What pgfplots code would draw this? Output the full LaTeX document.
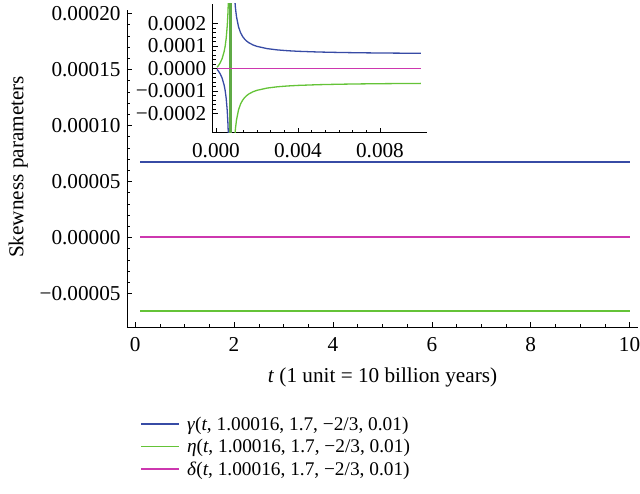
\documentclass[border=0pt]{standalone}
\usepackage{fontspec}
\setmainfont{Liberation Serif}
\usepackage{pgfplots}
\pgfplotsset{compat=1.18}
\definecolor{cblue}{RGB}{55,75,165}
\definecolor{cgreen}{RGB}{100,195,55}
\definecolor{cgreenv}{RGB}{95,170,70}
\definecolor{cpink}{RGB}{205,55,175}
\newcommand{\fs}{\fontsize{21.3}{25}\selectfont}
\newcommand{\fl}{\fontsize{19.4}{23}\selectfont}
\pgfplotsset{
  mystyle/.style={
    scale only axis,
    axis x line*=bottom, axis y line*=left,
    axis line style={-, line width=0.6bp},
    tick align=inside,
    major tick length=5bp, minor tick length=3bp,
    every tick/.style={line width=0.5bp, black},
    tick label style={font=\fs},
    xticklabel style={yshift=-7bp},
    yticklabel style={xshift=-3bp},
    label style={font=\fs},
    scaled ticks=false,
  },
  mylegimg/.style={legend image code/.code={\draw[##1, line width=1.7bp] (0bp,0bp) -- (38bp,0bp);}},
}
\begin{document}
\begin{tikzpicture}
\path[use as bounding box] (-127bp,-167bp) rectangle (513bp,327bp);
\begin{axis}[mystyle,
  at={(0bp,0bp)}, anchor=south west,
  width=511bp, height=317bp,
  xmin=-0.165, xmax=10.17, ymin=-0.00008, ymax=0.000203,
  xtick={0,2,4,6,8,10}, xticklabels={0,2,4,6,8,10}, minor x tick num=3,
  ytick={-0.00005,0,0.00005,0.0001,0.00015,0.0002},
  yticklabels={−0.00005,0.00000,0.00005,0.00010,0.00015,0.00020},
  minor y tick num=4,
  xlabel={\textit{t} (1 unit = 10 billion years)},
  ylabel={Skewness parameters},
  xlabel style={at={(axis description cs:0.5,-0.158)}, anchor=center},
  ylabel style={at={(axis description cs:-0.213,0.505)}, anchor=center},
  legend style={at={(axis description cs:0.02,-0.27)}, anchor=north west,
    draw=none, fill=none, font=\fl, row sep=3.5bp, column sep=5bp,
    cells={anchor=west}},
]
\addplot[cblue, line width=2bp, mylegimg] coordinates {(0.1,6.7e-5) (5,6.7e-5) (10,6.7e-5)};
\addlegendentry{\textit{γ}(\textit{t}, 1.00016, 1.7, −2/3, 0.01)}
\addplot[cgreen, line width=2bp, mylegimg] coordinates {(0.1,-6.6e-5) (5,-6.6e-5) (10,-6.6e-5)};
\addlegendentry{\textit{η}(\textit{t}, 1.00016, 1.7, −2/3, 0.01)}
\addplot[cpink, line width=2bp, mylegimg] coordinates {(0.1,0) (5,0) (10,0)};
\addlegendentry{\textit{δ}(\textit{t}, 1.00016, 1.7, −2/3, 0.01)}
\end{axis}
\begin{axis}[mystyle,
  at={(85.7bp,194.3bp)}, anchor=south west,
  width=214bp, height=128.7bp,
  xmin=-0.00016, xmax=0.01028, ymin=-0.000286, ymax=0.000286,
  xtick={0,0.004,0.008}, xticklabels={0.000,0.004,0.008}, minor x tick num=5,
  ytick={-0.0002,-0.0001,0,0.0001,0.0002},
  yticklabels={−0.0002,−0.0001,0.0000,0.0001,0.0002},
  minor y tick num=4,
]
\addplot[cgreenv, line width=2.6bp] coordinates {(0.000715,0.0003) (0.000715,-0.0003)};
\addplot[cblue, line width=1.3bp] coordinates {
(0.00005,-4.56e-6) (0.0001,-9.84e-6) (0.0002,-2.34e-5) (0.0003,-4.33e-5)
(0.0004,-7.52e-5) (0.00045,-9.96e-5) (0.0005,-1.348e-4) (0.00055,-1.894e-4)
(0.00058,-2.397e-4) (0.0006,-2.862e-4) (0.00062,-3.495e-4) (0.00065,-5.04e-4)};
\addplot[cblue, line width=1.3bp] coordinates {
(0.0008,7.09e-4) (0.00085,4.39e-4) (0.0009,3.28e-4) (0.00095,2.68e-4)
(0.001,2.30e-4) (0.0011,1.843e-4) (0.0012,1.583e-4) (0.0013,1.414e-4)
(0.0014,1.296e-4) (0.0015,1.208e-4) (0.0016,1.140e-4) (0.0018,1.043e-4)
(0.002,9.76e-5) (0.0025,8.76e-5) (0.003,8.19e-5) (0.0035,7.83e-5)
(0.004,7.58e-5) (0.005,7.26e-5) (0.006,7.06e-5) (0.007,6.92e-5)
(0.008,6.82e-5) (0.009,6.75e-5) (0.01,6.69e-5)};
\addplot[cgreen, line width=1.3bp] coordinates {
(0.00005,4.56e-6) (0.0001,9.84e-6) (0.0002,2.34e-5) (0.0003,4.33e-5)
(0.0004,7.52e-5) (0.00045,9.96e-5) (0.0005,1.348e-4) (0.00055,1.894e-4)
(0.00058,2.397e-4) (0.0006,2.862e-4) (0.00062,3.495e-4) (0.00065,5.04e-4)};
\addplot[cgreen, line width=1.3bp] coordinates {
(0.0008,-7.09e-4) (0.00085,-4.39e-4) (0.0009,-3.28e-4) (0.00095,-2.68e-4)
(0.001,-2.30e-4) (0.0011,-1.843e-4) (0.0012,-1.583e-4) (0.0013,-1.414e-4)
(0.0014,-1.296e-4) (0.0015,-1.208e-4) (0.0016,-1.140e-4) (0.0018,-1.043e-4)
(0.002,-9.76e-5) (0.0025,-8.76e-5) (0.003,-8.19e-5) (0.0035,-7.83e-5)
(0.004,-7.58e-5) (0.005,-7.26e-5) (0.006,-7.06e-5) (0.007,-6.92e-5)
(0.008,-6.82e-5) (0.009,-6.75e-5) (0.01,-6.69e-5)};
\addplot[cpink, line width=1.3bp] coordinates {(0.00005,0) (0.005,0) (0.01,0)};
\end{axis}
\end{tikzpicture}
\end{document}
